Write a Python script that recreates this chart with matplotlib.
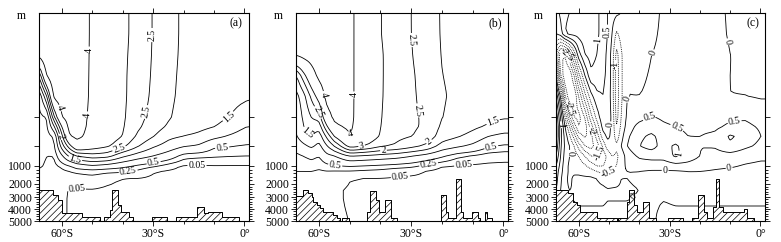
import numpy as np
import matplotlib
matplotlib.use("Agg")
import matplotlib.pyplot as plt

plt.rcParams['font.family'] = 'serif'
plt.rcParams['font.serif'] = ['Liberation Serif', 'DejaVu Serif']
plt.rcParams['hatch.linewidth'] = 0.5

# ---------------------------------------------
# data
# ---------------------------------------------
depth_rows = [0, 100, 200, 300, 400, 500, 600, 700, 800, 900, 1000, 1300, 1700, 2500, 5000]

lat_ab = [-67.5, -65, -62.5, -60, -57.5, -55, -50, -45, -40, -35, -30, -25, -20, -15, -10, -5, 0, 1.5]

# panel (a): one list per latitude, surface to bottom
field_a_cols = [
    [4.8, 4.6, 4.3, 2.0, 0.52, 0.4, 0.35, 0.33, 0.35, 0.32, 0.28, 0.22, 0.15, 0.1, 0.08],
    [5.0, 4.9, 4.7, 4.1, 1.9, 0.45, 0.38, 0.32, 0.28, 0.25, 0.22, 0.18, 0.12, 0.08, 0.08],
    [5.0, 5.0, 4.9, 4.7, 4.3, 2.4, 1.45, 0.55, 0.4, 0.25, 0.18, 0.14, 0.07, 0.07, 0.07],
    [4.9, 4.9, 4.85, 4.7, 4.45, 4.0, 3.0, 2.35, 1.75, 0.9, 0.3, 0.2, 0.1, 0.07, 0.07],
    [4.8, 4.8, 4.75, 4.65, 4.5, 4.4, 4.3, 3.95, 2.8, 1.6, 0.45, 0.25, 0.12, 0.04, 0.04],
    [4.6, 4.6, 4.55, 4.5, 4.45, 4.35, 4.3, 4.2, 3.7, 2.0, 0.7, 0.3, 0.13, 0.03, 0.03],
    [3.85, 3.85, 3.85, 3.85, 3.85, 3.82, 3.8, 3.7, 3.3, 2.3, 0.9, 0.35, 0.17, 0.03, 0.03],
    [3.45, 3.45, 3.45, 3.45, 3.45, 3.42, 3.4, 3.3, 3.1, 2.2, 0.75, 0.3, 0.08, 0.02, 0.02],
    [3.15, 3.15, 3.12, 3.1, 3.1, 3.08, 3.05, 3.0, 2.65, 1.6, 0.6, 0.28, 0.04, 0.02, 0.02],
    [2.78, 2.78, 2.76, 2.74, 2.72, 2.65, 2.58, 2.4, 2.05, 1.25, 0.4, 0.2, 0.04, 0.02, 0.02],
    [2.48, 2.48, 2.47, 2.45, 2.42, 2.35, 2.25, 2.03, 1.58, 1.0, 0.28, 0.06, 0.02, 0.02, 0.02],
    [2.15, 2.15, 2.14, 2.12, 2.1, 2.05, 1.93, 1.62, 1.3, 0.75, 0.12, 0.03, 0.02, 0.02, 0.02],
    [1.93, 1.93, 1.92, 1.9, 1.88, 1.82, 1.72, 1.5, 1.05, 0.35, 0.02, 0.02, 0.02, 0.02, 0.02],
    [1.82, 1.82, 1.81, 1.8, 1.78, 1.72, 1.63, 1.4, 0.95, 0.3, 0.02, 0.02, 0.02, 0.02, 0.02],
    [1.78, 1.78, 1.77, 1.76, 1.74, 1.66, 1.52, 1.15, 0.55, 0.28, 0.03, 0.02, 0.02, 0.02, 0.02],
    [1.74, 1.74, 1.73, 1.72, 1.68, 1.5, 1.3, 0.95, 0.52, 0.26, 0.03, 0.02, 0.02, 0.02, 0.02],
    [1.72, 1.72, 1.7, 1.68, 1.58, 1.28, 1.02, 0.78, 0.46, 0.25, 0.03, 0.02, 0.02, 0.02, 0.02],
    [1.72, 1.72, 1.7, 1.67, 1.56, 1.26, 1.0, 0.77, 0.45, 0.25, 0.03, 0.02, 0.02, 0.02, 0.02],
]

# panel (b)
field_b_cols = [
    [4.8, 4.7, 4.15, 1.9, 1.3, 1.1, 1.0, 0.95, 0.7, 0.4, 0.3, 0.25, 0.2, 0.15, 0.12],
    [4.8, 4.75, 4.3, 2.8, 1.8, 1.6, 1.5, 1.3, 0.9, 0.5, 0.3, 0.25, 0.2, 0.15, 0.12],
    [4.9, 4.85, 4.4, 3.6, 2.6, 2.0, 1.8, 1.5, 1.1, 0.6, 0.35, 0.25, 0.18, 0.12, 0.1],
    [4.9, 4.85, 4.6, 4.25, 3.3, 2.2, 1.7, 1.2, 0.85, 0.5, 0.3, 0.22, 0.15, 0.1, 0.1],
    [4.8, 4.8, 4.7, 4.55, 4.3, 3.7, 2.9, 2.1, 1.45, 0.85, 0.4, 0.24, 0.12, 0.06, 0.06],
    [4.6, 4.6, 4.55, 4.5, 4.35, 4.15, 3.9, 3.0, 2.0, 0.95, 0.45, 0.23, 0.1, 0.06, 0.06],
    [4.15, 4.15, 4.15, 4.15, 4.15, 4.15, 4.12, 4.08, 3.3, 1.5, 0.5, 0.23, 0.05, 0.04, 0.05],
    [3.6, 3.6, 3.6, 3.6, 3.6, 3.58, 3.55, 3.45, 3.0, 1.4, 0.45, 0.2, 0.04, 0.03, 0.03],
    [3.0, 3.0, 3.05, 3.05, 3.05, 3.02, 3.0, 2.95, 2.6, 1.3, 0.4, 0.18, 0.04, 0.02, 0.02],
    [2.75, 2.75, 2.75, 2.75, 2.72, 2.7, 2.65, 2.6, 2.45, 1.2, 0.35, 0.12, 0.03, 0.02, 0.02],
    [2.5, 2.5, 2.52, 2.55, 2.55, 2.55, 2.55, 2.52, 2.2, 1.0, 0.3, 0.1, 0.02, 0.02, 0.02],
    [2.25, 2.28, 2.3, 2.35, 2.4, 2.45, 2.45, 2.35, 1.9, 0.8, 0.15, 0.04, 0.02, 0.02, 0.02],
    [1.95, 1.95, 1.97, 2.0, 2.05, 2.0, 1.9, 1.75, 1.3, 0.55, 0.05, 0.02, 0.02, 0.02, 0.02],
    [1.85, 1.85, 1.85, 1.88, 1.9, 1.85, 1.75, 1.55, 1.1, 0.3, 0.03, 0.02, 0.02, 0.02, 0.02],
    [1.8, 1.8, 1.8, 1.8, 1.82, 1.75, 1.6, 1.35, 0.9, 0.2, 0.02, 0.02, 0.02, 0.02, 0.02],
    [1.78, 1.78, 1.78, 1.78, 1.75, 1.6, 1.45, 1.0, 0.55, 0.12, 0.02, 0.02, 0.02, 0.02, 0.02],
    [1.75, 1.75, 1.75, 1.72, 1.68, 1.55, 1.3, 0.85, 0.45, 0.1, 0.02, 0.02, 0.02, 0.02, 0.02],
    [1.75, 1.75, 1.75, 1.72, 1.68, 1.55, 1.3, 0.85, 0.45, 0.1, 0.02, 0.02, 0.02, 0.02, 0.02],
]

# panel (c): difference field, one list per depth row
lat_c = [-67.5, -66, -64.5, -63, -61.5, -60, -58, -56, -54, -52, -50.5, -49, -47.5,
         -46, -44, -40, -36, -32, -28, -24, -20, -15, -10, -5, 0, 1.5]
field_c_rows = [
    [0.3, 0.6, 0.9, 1.0, 1.1, 1.1, 1.2, 1.2, 1.1, 0.8, 0.5, 0.2, 0.1, 0.0, -0.1, -0.2, -0.2, 0.1, 0.2, 0.2, 0.2, 0.2, -0.1, -0.2, -0.2, -0.2],
    [0.0, 0.3, 1.0, 1.2, 1.2, 1.2, 1.3, 1.3, 1.1, 0.8, 0.5, 0.0, -0.6, -0.3, 0.0, -0.2, -0.1, 0.1, 0.2, 0.2, 0.25, 0.3, -0.1, -0.2, -0.2, -0.2],
    [-1.5, -3.0, -3.0, -2.0, -0.8, 0.3, 1.0, 1.2, 1.0, 0.7, 0.4, -0.2, -1.2, -0.6, 0.0, -0.2, 0.0, 0.1, 0.2, 0.2, 0.25, 0.4, 0.0, -0.15, -0.2, -0.2],
    [0.0, -2.5, -3.5, -3.5, -2.5, -1.2, 0.0, 0.9, 0.8, 0.6, 0.4, -0.2, -1.3, -0.6, 0.0, -0.1, 0.05, 0.1, 0.15, 0.15, 0.2, 0.1, 0.0, -0.1, -0.15, -0.15],
    [1.5, 0.0, -2.5, -3.5, -3.5, -2.5, -1.2, -0.2, 0.4, 0.5, 0.3, -0.2, -1.3, -0.6, 0.0, 0.0, 0.1, 0.1, 0.1, 0.1, 0.1, 0.05, 0.0, 0.0, -0.05, -0.05],
    [2.5, 1.0, -0.5, -2.0, -3.0, -3.2, -2.5, -1.2, -0.3, 0.4, 0.3, -0.1, -1.2, -0.5, 0.1, 0.3, 0.55, 0.4, 0.3, 0.3, 0.3, 0.3, 0.4, 0.45, 0.3, 0.3],
    [2.8, 1.2, 0.0, -1.0, -2.2, -3.0, -2.8, -1.8, -0.8, 0.2, 0.2, -0.1, -1.0, -0.4, 0.2, 0.7, 0.8, 0.6, 0.5, 0.4, 0.4, 0.4, 0.6, 0.6, 0.45, 0.45],
    [2.8, 1.2, 0.3, -0.4, -1.2, -2.2, -2.6, -2.2, -1.3, -0.2, 0.1, -0.1, -0.8, -0.2, 0.4, 0.9, 1.1, 0.8, 0.7, 0.5, 0.5, 0.6, 1.1, 0.8, 0.5, 0.5],
    [2.5, 1.1, 0.4, 0.0, -0.5, -1.2, -2.0, -2.2, -1.8, -0.9, -0.2, 0.0, -0.4, 0.0, 0.5, 1.0, 1.2, 0.8, 1.1, 0.7, 0.5, 0.55, 0.9, 0.6, 0.4, 0.4],
    [2.0, 1.0, 0.3, 0.0, -0.2, -0.5, -1.0, -1.5, -1.6, -1.3, -0.9, -0.5, -0.6, -0.3, 0.2, 0.6, 0.7, 0.7, 1.1, 0.8, 0.5, 0.3, 0.3, 0.2, 0.1, 0.1],
    [1.5, 0.8, 0.2, -0.1, -0.1, -0.2, -0.4, -0.7, -1.0, -1.0, -0.8, -0.6, -0.5, -0.2, 0.1, 0.2, 0.2, 0.2, 0.3, 0.3, 0.2, 0.1, 0.05, -0.05, -0.1, -0.1],
    [1.3, 0.7, 0.2, -0.1, -0.1, -0.1, -0.2, -0.3, -0.5, -0.7, -0.6, -0.4, -0.2, -0.1, 0.0, 0.0, -0.05, -0.05, -0.05, 0.0, 0.0, -0.05, -0.1, -0.1, -0.1, -0.1],
    [1.2, 0.6, 0.1, -0.1, 0.1, 0.1, 0.1, 0.1, 0.0, -0.1, -0.2, -0.15, -0.1, 0.0, 0.0, -0.05, -0.1, -0.1, -0.1, -0.1, -0.1, -0.1, -0.1, -0.1, -0.1, -0.1],
    [1.0, 0.5, 0.1, 0.0, 0.05, 0.1, 0.1, 0.1, 0.1, 0.1, 0.05, 0.05, 0.05, 0.05, 0.05, 0.0, -0.05, -0.05, -0.1, -0.1, -0.1, -0.1, -0.1, -0.1, -0.1, -0.1],
    [0.8, 0.4, 0.1, 0.0, -0.1, -0.1, -0.1, -0.1, -0.1, -0.1, -0.1, -0.1, -0.1, -0.1, -0.1, -0.1, -0.05, 0.1, 0.1, 0.1, 0.1, 0.1, 0.1, 0.1, 0.1, 0.1],
]

# sea floor (hatched): latitude edges and floor depth of each step
floor_a_edges = [-67.5, -62.8, -61.2, -59.8, -53.5, -47.4, -46.1, -44.1, -43.6, -41.7, -40.6,
                 -37.8, -36.5, -30.4, -25.5, -22.5, -15.6, -13.3, -12.0, -7.4, -1.9, 1.5]
floor_a_depth = [2460, 2850, 3250, 4300, 4640, 5000, 4640, 4080, 2460, 3700,
                 4220, 4640, 5000, 4640, 5000, 4640, 3800, 4300, 4220, 4640, 5000]

floor_b_edges = [-67.5, -65.1, -63.5, -62.4, -61.9, -60.8, -59.7, -58.6, -55.3, -54.2, -53.2,
                 -52.4, -50.2, -44.5, -43.4, -41.4, -40.4, -38.5, -36.7, -34.5, -20.3, -18.7,
                 -17.9, -15.4, -13.9, -13.0, -10.3, -8.3, -7.6, -6.0, -5.4, -3.8, 1.5]
floor_b_depth = [2900, 2460, 2720, 2975, 3390, 3670, 3940, 4225, 4500, 4775, 5000,
                 4775, 5000, 4225, 2515, 3250, 4225, 3250, 4775, 5000, 2850, 4225,
                 4775, 1740, 4225, 4775, 4225, 4775, 5000, 4225, 4775, 5000]

floor_c_edges = [-67.5, -63.4, -62.0, -60.7, -59.6, -54.1, -47.5, -46.9, -44.2, -43.4, -41.8,
                 -40.7, -38.7, -36.7, -34.5, -30.4, -25.5, -22.7, -20.5, -18.7, -17.5, -15.8,
                 -14.7, -13.7, -12.5, -5.4, -4.6, -2.2, 1.5]
floor_c_depth = [2460, 2720, 3390, 3670, 4225, 4775, 5000, 4775, 3390, 2460, 3670,
                 4225, 3390, 4775, 5000, 4775, 5000, 4775, 2850, 4225, 4775, 3800,
                 1740, 3800, 4225, 4000, 4775, 5000]

levels_ab = [0.05, 0.25, 0.5, 1, 1.5, 2, 2.5, 3, 4]
levels_c = [-3.5, -3, -2.5, -2, -1.5, -1, -0.5, 0, 0.5, 1, 1.5, 2, 2.5, 3]

# where the contour labels sit (lat, depth); clabel snaps them to the nearest line
label_at_a = [(-51.6, 178), (-51.6, 490), (-60.6, 457), (-60.6, 707), (-30.4, 106),
              (-30.4, 481), (-41.4, 807), (-55.7, 940), (-3.6, 565), (-29.9, 957),
              (-7.4, 779), (-38.1, 1406), (-15.6, 973), (-55.1, 2715)]
label_at_b = [(-48.5, 394), (-48.5, 697), (-59.1, 394), (-59.9, 474), (-64, 674),
              (-29.8, 130), (-26.6, 466), (-25.5, 697), (-46.1, 807), (-39, 857),
              (-54.8, 1037), (-24.4, 973), (-4.3, 757), (-33.6, 1406), (-13, 957), (-3.2, 565)]
label_at_c = [(-54.6, 130), (-50.2, 90), (-47.7, 250), (-49.9, 580), (-44.4, 410),
              (-64, 200), (-62.9, 458), (-65.6, 580), (-56.3, 650), (-62.3, 873),
              (-53, 873), (-27.7, 234), (-10.6, 138), (-36.5, 512), (-28.2, 650),
              (-25.5, 890), (-8.4, 600), (-10.6, 957), (-31.5, 1406), (-49.7, 1406),
              (-40.9, 3250)]

# depth axis: stretched upper ocean, compressed deep ocean
axis_depth = [-1000, 0, 500, 800, 1000, 2000, 3000, 4000, 5000, 10000]
axis_pos = [-195, 13, 117, 146, 166, 184, 197, 209, 221, 281]


def depth_fwd(d):
    return np.interp(d, axis_depth, axis_pos)


def depth_inv(p):
    return np.interp(p, axis_pos, axis_depth)


def refine(lat, dep, z, n=4, passes=2):
    # linear upsampling plus a light smoothing so the contours are not angular
    lat = np.asarray(lat, float)
    dep = np.asarray(dep, float)
    z = np.asarray(z, float)
    i_lat = np.arange(len(lat))
    i_dep = np.arange(len(dep))
    f_lat = np.linspace(0, len(lat) - 1, (len(lat) - 1) * n + 1)
    f_dep = np.linspace(0, len(dep) - 1, (len(dep) - 1) * n + 1)
    zz = np.array([np.interp(f_lat, i_lat, row) for row in z])
    zz = np.array([np.interp(f_dep, i_dep, col) for col in zz.T]).T
    for _ in range(passes):
        p = np.pad(zz, 1, mode='edge')
        zz = (p[:-2, 1:-1] + p[2:, 1:-1] + p[1:-1, :-2] + p[1:-1, 2:] + 4 * p[1:-1, 1:-1]) / 8
    return np.interp(f_lat, i_lat, lat), np.interp(f_dep, i_dep, dep), zz


def draw_floor(ax, edges, depths):
    d = np.append(depths, depths[-1])
    ax.fill_between(edges, d, 5000, step='post', facecolor='white', edgecolor='black',
                    hatch='/////', linewidth=0.7, zorder=3)


def style_axes(ax, tag):
    ax.set_yscale('function', functions=(depth_fwd, depth_inv))
    ax.set_ylim(5000, 0)
    ax.set_xlim(-67.5, 1.5)
    ax.set_xticks([-60, -30, 0], ['60°S', '30°S', '0°'])
    ax.set_xticks([-50, -40, -20, -10], minor=True)
    ax.set_yticks([500, 800, 1000, 2000, 3000, 4000, 5000],
                  ['', '', '1000', '2000', '3000', '4000', '5000'])
    ax.set_yticks([d for d in range(1200, 5000, 200) if d % 1000], minor=True)
    ax.tick_params(which='both', direction='out', top=True, right=True,
                   width=0.6, labelsize=8.5, pad=1.5)
    ax.tick_params(which='major', length=3.5)
    ax.tick_params(which='minor', length=2.5)
    for s in ax.spines.values():
        s.set_linewidth(0.8)
    ax.text(-0.085, 0.985, 'm', transform=ax.transAxes, ha='center', va='center', fontsize=8.5)
    ax.text(0.94, 0.95, tag, transform=ax.transAxes, ha='center', va='center', fontsize=8.5)


fig = plt.figure(figsize=(7.81, 2.42), dpi=100)
ax_a = fig.add_axes([39 / 781, 21 / 242, 210 / 781, 208 / 242])
ax_b = fig.add_axes([296 / 781, 21 / 242, 212 / 781, 208 / 242])
ax_c = fig.add_axes([556 / 781, 21 / 242, 209 / 781, 208 / 242])

for ax, cols, tag, spots in [(ax_a, field_a_cols, '(a)', label_at_a),
                             (ax_b, field_b_cols, '(b)', label_at_b)]:
    style_axes(ax, tag)
    x, y, z = refine(lat_ab, depth_rows, np.array(cols).T)
    cs = ax.contour(x, y, z, levels=levels_ab, colors='black', linewidths=0.6)
    ax.clabel(cs, fmt='%g', fontsize=7, inline_spacing=1, manual=spots)

style_axes(ax_c, '(c)')
x, y, z = refine(lat_c, depth_rows, field_c_rows, passes=1)
styles = [(0, (1, 1.2)) if lv < 0 else 'solid' for lv in levels_c]
cs = ax_c.contour(x, y, z, levels=levels_c, colors='black', linewidths=0.6, linestyles=styles)
ax_c.clabel(cs, fmt='%g', fontsize=7, inline_spacing=1, manual=label_at_c)

draw_floor(ax_a, floor_a_edges, floor_a_depth)
draw_floor(ax_b, floor_b_edges, floor_b_depth)
draw_floor(ax_c, floor_c_edges, floor_c_depth)

fig.savefig('out.png', dpi=100)
